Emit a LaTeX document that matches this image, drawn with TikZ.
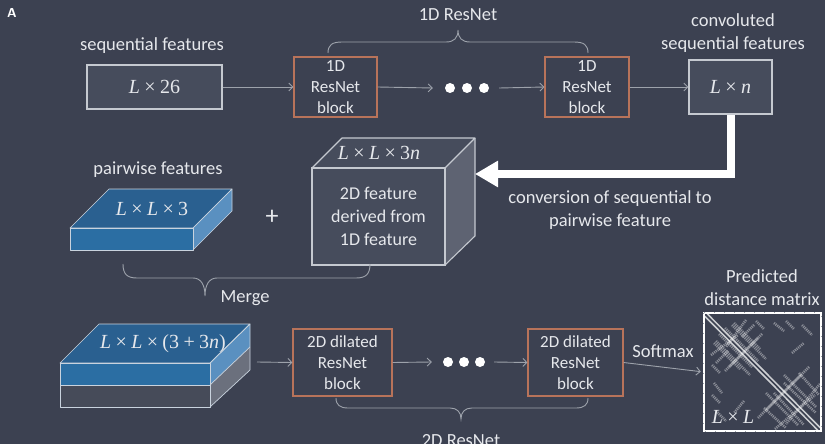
\documentclass[tikz,border=0pt]{standalone}
\usepackage{fontspec}
\setmainfont{Carlito}
\newfontfamily\mfont{Liberation Serif}
\newcommand{\mv}[1]{{\itshape #1}}
\newcommand{\tms}{\hspace{0.22em}×\hspace{0.22em}}
\usetikzlibrary{arrows.meta}
\definecolor{bg}{HTML}{3C4151}
\definecolor{boxfill}{HTML}{464C5C}
\definecolor{boxline}{HTML}{C5C9D0}
\definecolor{orng}{HTML}{B8735A}
\definecolor{txt}{HTML}{E6E8EC}
\definecolor{arr}{HTML}{9DA2AB}
\definecolor{bluefront}{HTML}{2B6EA3}
\definecolor{bluetop}{HTML}{2A6090}
\definecolor{blueside}{HTML}{5A90C0}
\definecolor{sidegray}{HTML}{5E6372}
\definecolor{slabgray}{HTML}{464B59}
\definecolor{slabside}{HTML}{6B707D}
\definecolor{slabline}{HTML}{C9D3DE}
\tikzset{
  lbl/.style={text=txt, font=\fontsize{18.5}{23}\selectfont, inner sep=0, align=center},
  mathlbl/.style={text=txt, font=\mfont\fontsize{20}{22}\selectfont, inner sep=0},
  databox/.style={draw=boxline, fill=boxfill, line width=1.1pt, inner sep=0, text=txt, font=\mfont\fontsize{20}{22}\selectfont},
  resbox/.style={draw=orng, line width=1.1pt, inner sep=0, align=center, text=txt, font=\fontsize{17}{21}\selectfont},
  flow/.style={draw=arr, line width=0.9pt, -{Straight Barb[length=4pt,width=8pt]}},
  bracestyle/.style={draw=arr, line width=0.9pt},
  dotmark/.style={circle, fill=white, minimum size=10pt, inner sep=0},
  slabface/.style={draw=slabline, line width=0.7pt, line join=round},
  blob/.style={white, opacity=.4, line width=2.6pt, dash pattern=on 1.1pt off 0.9pt},
}
\begin{document}
\begin{tikzpicture}[x=1pt,y=-1pt]
\fill[bg] (0,0) rectangle (825,444);
\useasboundingbox (0,0) rectangle (825,444);

\node[text=white, font=\sffamily\bfseries\fontsize{13}{13}\selectfont, inner sep=0] (lettera) at (12,13) {A};

% ---------- row 1 ----------
\node[lbl] (seqlbl) at (152,46) {sequential features};
\node[databox, minimum width=135pt, minimum height=44pt] (seq) at (154.5,87) {\mv{L}\tms 26};
\node[resbox, minimum width=83pt, minimum height=60pt] (rb1) at (335.5,87) {1D\\ResNet\\block};
\node[minimum width=66pt, minimum height=10pt, inner sep=0] (dots1) at (466,88) {};
\node[dotmark] (d1a) at (450,88) {};
\node[dotmark] (d1b) at (467,88) {};
\node[dotmark] (d1c) at (484,88) {};
\node[resbox, minimum width=84pt, minimum height=60pt] (rb2) at (587,87) {1D\\ResNet\\block};
\node[databox, minimum width=83pt, minimum height=54pt] (lxn) at (730.5,87) {\mv{L}\tms\mv{n}};
\node[lbl] (convlbl) at (733,33) {convoluted\\sequential features};
\node[lbl] (res1lbl) at (458,15) {1D ResNet};

\draw[flow] (seq.east) -- (rb1.west);
\draw[flow] (rb1.east) -- (dots1.west);
\draw[flow] (dots1.east) -- (rb2.west);
\draw[flow] (rb2.east) -- (lxn.west);

\draw[bracestyle] (328,53) .. controls (328,45) and (332,42) .. (342,42) -- (446,42)
  .. controls (454,42) and (458,38) .. (458,30) .. controls (458,38) and (462,42) .. (470,42)
  -- (574,42) .. controls (584,42) and (588,45) .. (588,53);

% ---------- row 2 ----------
\node[lbl] (pairlbl) at (158,170) {pairwise features};
\fill[bluetop] (70,228) -- (109,189) -- (232,189) -- (193,228) -- cycle;
\fill[blueside] (193,228) -- (232,189) -- (232,211) -- (193,250) -- cycle;
\fill[bluefront] (70,228) rectangle (193,250);
\draw[slabface] (70,228) -- (109,189) -- (232,189) -- (193,228) -- cycle;
\draw[slabface] (193,228) -- (232,189) -- (232,211) -- (193,250);
\draw[slabface] (70,228) rectangle (193,250);
\node[mathlbl] (slabA) at (152,209) {\mv{L}\tms\mv{L}\tms 3};

\node[text=txt, font=\fontsize{26}{26}\selectfont, inner sep=0] (plus) at (272,217) {+};

\fill[boxfill] (312,168) -- (342,138) -- (475,138) -- (445,168) -- cycle;
\fill[sidegray] (445,168) -- (475,138) -- (475,236) -- (445,265) -- cycle;
\draw[boxline, line width=1.1pt, line join=round] (312,168) -- (342,138) -- (475,138) -- (445,168);
\draw[boxline, line width=1.1pt, line join=round] (475,138) -- (475,236) -- (445,265);
\node[databox, minimum width=133pt, minimum height=97pt, align=center, font=\fontsize{18}{23}\selectfont] (cube) at (378.5,216.5) {2D feature\\derived from\\1D feature};
\node[mathlbl] (cubetop) at (379,153) {\mv{L}\tms\mv{L}\tms 3\mv{n}};
\coordinate (cubeside) at (475,174);

\draw[white, line width=8pt, -{Triangle[length=23pt,width=25pt]}] (lxn.south) |- (cubeside);
\node[lbl] (convtxt) at (610,210.5) {conversion of sequential to\\pairwise feature};

\draw[bracestyle] (123,264) .. controls (123,274) and (127,278) .. (137,278) -- (193,278)
  .. controls (201,278) and (205,285) .. (205,296) .. controls (205,285) and (209,278) .. (217,278)
  -- (356,278) .. controls (366,278) and (370,274) .. (370,264);
\node[lbl] (mergelbl) at (245,298) {Merge};

% ---------- row 3 ----------
\fill[bluetop] (60,363) -- (99,324) -- (250,324) -- (210,363) -- cycle;
\fill[blueside] (210,363) -- (250,324) -- (250,347) -- (210,385) -- cycle;
\fill[slabside] (210,385) -- (250,347) -- (250,370) -- (210,407) -- cycle;
\fill[bluefront] (60,363) rectangle (210,385);
\fill[slabgray] (60,385) rectangle (210,407);
\draw[slabface] (60,363) -- (99,324) -- (250,324) -- (210,363) -- cycle;
\draw[slabface] (210,363) -- (250,324) -- (250,370) -- (210,407);
\draw[slabface] (210,385) -- (250,347);
\draw[slabface] (60,363) rectangle (210,407);
\draw[slabface] (60,385) -- (210,385);
\node[mathlbl] (slabB) at (163,344) {\mv{L}\tms\mv{L}\tms(3\hspace{0.22em}+\hspace{0.22em}3\mv{n})};
\coordinate (slabout) at (257,362);

\node[resbox, minimum width=99pt, minimum height=67pt] (db1) at (342.5,362.5) {2D dilated\\ResNet\\block};
\node[minimum width=62pt, minimum height=10pt, inner sep=0] (dots2) at (463,362) {};
\node[dotmark] (d2a) at (448,362) {};
\node[dotmark] (d2b) at (464,362) {};
\node[dotmark] (d2c) at (480,362) {};
\node[resbox, minimum width=95pt, minimum height=67pt] (db2) at (575.5,362.5) {2D dilated\\ResNet\\block};

\draw[flow] (slabout) -- (db1.west);
\draw[flow] (db1.east) -- (dots2.west);
\draw[flow] (dots2.east) -- (db2.west);

\node[lbl] (softlbl) at (663,351) {Softmax};
\node[lbl] (predlbl) at (762,288) {Predicted\\distance matrix};

% distance matrix
\node[minimum width=117pt, minimum height=118pt, inner sep=0] (dmat) at (762.5,372) {};
\draw[flow, shorten >=3pt] (db2.east) -- (dmat.west);
\begin{scope}[shift={(704,313)}]
  \draw[white!75!bg, line width=5pt] (2,2) -- (115,116);
  \draw[bg, line width=1.6pt] (1,1) -- (116,117);
  \foreach \a/\b/\c/\d in {
    42/7/22/34, 58/21/25/54, 50/12/38/24, 15/21/48/54, 10/30/36/56, 28/12/62/46,
    7/42/34/22, 21/58/54/25, 12/50/24/38, 21/15/54/48, 30/10/56/36, 12/28/46/62,
    70/10/80/18, 98/12/108/22, 10/70/18/80, 12/98/22/108,
    8/52/16/60, 8/82/16/90, 52/8/60/16, 82/8/90/16,
    105/54/62/97, 116/71/82/111, 95/60/115/82, 70/80/100/112, 80/62/112/94,
    54/105/97/62, 71/116/111/82, 60/95/82/115, 80/70/112/100, 62/80/94/112,
    88/40/100/30, 40/88/30/100}
    \draw[blob] (\a,\b) -- (\c,\d);
\end{scope}
\draw[white, line width=2pt] (dmat.north west) rectangle (dmat.south east);
\draw[arr, line width=1.2pt, dash pattern=on 1pt off 9pt] (dmat.north west) rectangle (dmat.south east);
\node[mathlbl] (lxl) at (733,417) {\mv{L}\tms\mv{L}};

\draw[bracestyle] (336,398) .. controls (336,405) and (340,408) .. (348,408) -- (450,408)
  .. controls (457,408) and (461,412) .. (461,419) .. controls (461,412) and (465,408) .. (472,408)
  -- (576,408) .. controls (584,408) and (588,405) .. (588,398);
\node[lbl] (res2lbl) at (461,441) {2D ResNet};
\end{tikzpicture}
\end{document}
